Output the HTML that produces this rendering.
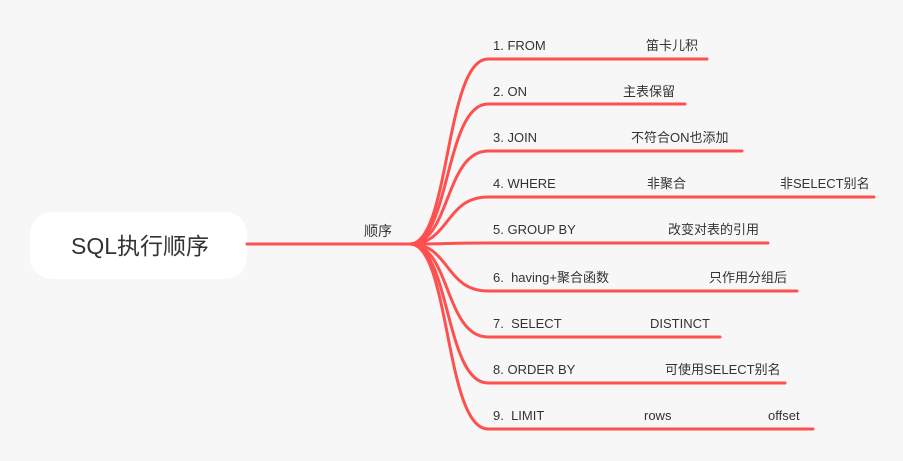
<!DOCTYPE html>
<html><head><meta charset="utf-8"><style>
body{margin:0;background:#f7f7f7;}
svg{display:block;font-family:"Liberation Sans","Noto Sans CJK SC",sans-serif;}
text{white-space:pre;}
</style></head><body>
<svg width="903" height="461" viewBox="0 0 903 461" xml:space="preserve">
<rect width="903" height="461" fill="#f7f7f7"/>
<rect x="30" y="212" width="217" height="67" rx="22" fill="#ffffff"/>
<text x="140" y="254" font-size="23" fill="#333" text-anchor="middle">SQL执行顺序</text>
<text x="378" y="236" font-size="14" fill="#333" text-anchor="middle">顺序</text>
<g fill="none" stroke="#ff5050" stroke-width="3" stroke-linecap="round">
<path d="M247 244 H410"/>
<path d="M410 244 C450 244 445 59 488 59 H707"/>
<path d="M410 244 C450 244 445 104 488 104 H685"/>
<path d="M410 244 C450 244 445 151 488 151 H742"/>
<path d="M410 244 C450 244 445 197 488 197 H874"/>
<path d="M410 244 C450 244 445 243 488 243 H768"/>
<path d="M410 244 C450 244 445 291 488 291 H797"/>
<path d="M410 244 C450 244 445 337 488 337 H720"/>
<path d="M410 244 C450 244 445 383 488 383 H785"/>
<path d="M410 244 C450 244 445 429 488 429 H813"/>
</g>
<g font-size="13" fill="#333">
<text x="493" y="50">1. FROM</text><text x="646" y="50">笛卡儿积</text>
<text x="493" y="96">2. ON</text><text x="623" y="96">主表保留</text>
<text x="493" y="142">3. JOIN</text><text x="631" y="142">不符合ON也添加</text>
<text x="493" y="188">4. WHERE</text><text x="647" y="188">非聚合</text><text x="780" y="188">非SELECT别名</text>
<text x="493" y="234">5. GROUP BY</text><text x="668" y="234">改变对表的引用</text>
<text x="493" y="282">6.  having+聚合函数</text><text x="709" y="282">只作用分组后</text>
<text x="493" y="328">7.  SELECT</text><text x="650" y="328">DISTINCT</text>
<text x="493" y="374">8. ORDER BY</text><text x="665" y="374">可使用SELECT别名</text>
<text x="493" y="420">9.  LIMIT</text><text x="644" y="420">rows</text><text x="768" y="420">offset</text>
</g>
</svg>
</body></html>
